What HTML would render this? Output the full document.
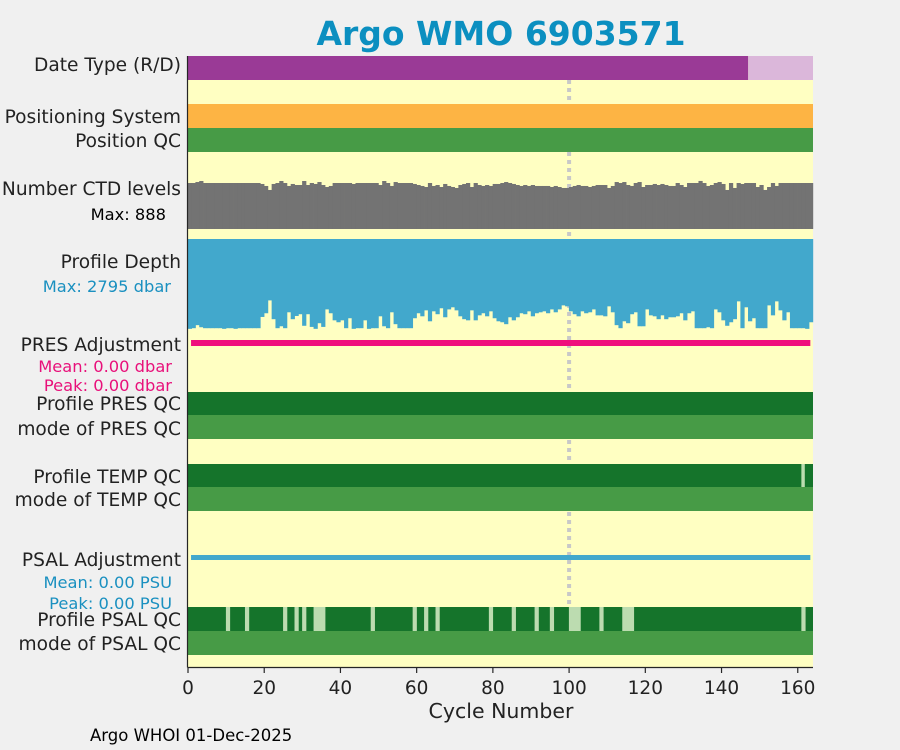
<!DOCTYPE html>
<html><head><meta charset="utf-8">
<style>
body{margin:0;background:#f0f0f0;}
svg{display:block;font-family:"DejaVu Sans","Liberation Sans",sans-serif;}
</style></head>
<body>
<svg id="chart" width="900" height="750" viewBox="0 0 900 750">
<rect x="0" y="0" width="900" height="750" fill="#f0f0f0"/>
<text x="501" y="45" text-anchor="middle" font-size="33" font-weight="bold" fill="#0b8fc0">Argo WMO 6903571</text>
<rect x="188" y="56" width="625" height="611" fill="#ffffc2"/>
<g id="marks"></g>
<g font-size="18.6" fill="#222" text-anchor="end">
<text x="181" y="71">Date Type (R/D)</text>
<text x="181" y="123">Positioning System</text>
<text x="181" y="147">Position QC</text>
<text x="181" y="195">Number CTD levels</text>
<text x="166" y="220" font-size="16.3" fill="#000">Max: 888</text>
<text x="181" y="268">Profile Depth</text>
<text x="171" y="292" font-size="16.3" fill="#1a90c0">Max: 2795 dbar</text>
<text x="181" y="351">PRES Adjustment</text>
<text x="172" y="372" font-size="16.3" fill="#e8107a">Mean: 0.00 dbar</text>
<text x="172" y="391" font-size="16.3" fill="#e8107a">Peak: 0.00 dbar</text>
<text x="181" y="410">Profile PRES QC</text>
<text x="181" y="435">mode of PRES QC</text>
<text x="181" y="483">Profile TEMP QC</text>
<text x="181" y="506">mode of TEMP QC</text>
<text x="181" y="566">PSAL Adjustment</text>
<text x="172" y="588" font-size="16.3" fill="#1a90c0">Mean: 0.00 PSU</text>
<text x="172" y="609" font-size="16.3" fill="#1a90c0">Peak: 0.00 PSU</text>
<text x="181" y="626">Profile PSAL QC</text>
<text x="181" y="650">mode of PSAL QC</text>
</g>
<g id="axis"></g>
<text x="501" y="718" text-anchor="middle" font-size="20.5" fill="#222">Cycle Number</text>
<text x="90" y="741" font-size="16.5" fill="#000">Argo WHOI 01-Dec-2025</text>
</svg>
<script>
const NS="http://www.w3.org/2000/svg";
const ctdLevels=[851,851,869,888,851,851,851,851,851,851,851,851,851,851,851,851,851,851,851,833,796,722,833,851,888,851,796,833,814,814,888,814,851,833,869,814,777,796,851,851,851,851,851,833,851,851,851,851,851,851,814,888,851,796,869,851,851,851,851,833,814,796,777,851,796,814,777,833,796,777,759,814,833,851,777,851,814,796,814,796,833,833,851,869,851,833,814,796,814,796,814,796,796,796,796,777,796,777,759,759,777,796,814,796,796,777,796,814,814,814,759,796,869,851,869,814,796,851,869,777,814,814,833,814,833,814,796,796,851,814,777,851,851,851,889,851,796,814,851,869,833,722,851,759,851,833,851,851,851,777,814,722,777,851,796,851,851,851,851,851,851,851,851,851];
const profileDepth=[2795,2775,2680,2745,2775,2775,2775,2775,2775,2795,2775,2775,2795,2775,2775,2775,2775,2775,2775,2425,2310,1910,2495,2775,2715,2775,2280,2495,2395,2340,2700,2340,2735,2795,2620,2735,2190,2310,2530,2590,2530,2775,2465,2795,2775,2775,2530,2795,2775,2775,2405,2715,2775,2280,2650,2775,2775,2775,2775,2465,2310,2405,2220,2560,2250,2340,2155,2435,2190,2125,2220,2405,2495,2530,2220,2530,2375,2310,2405,2250,2465,2560,2590,2650,2435,2530,2435,2310,2340,2250,2405,2310,2280,2250,2310,2190,2280,2190,2065,2095,2250,2340,2405,2250,2310,2280,2190,2375,2375,2405,2095,2280,2680,2775,2560,2620,2340,2280,2715,2715,2190,2375,2405,2495,2375,2495,2435,2435,2405,2310,2530,2310,2250,2775,2775,2775,2745,2775,2190,2280,2530,2700,2590,2495,1940,2775,2125,2560,2465,2775,2775,2775,2065,2375,1940,2220,2530,2280,2775,2775,2775,2775,2795,2590];
const psalBadCycles=[10,15,25,28,30,33,34,35,48,59,62,65,79,85,91,95,100,101,102,108,114,115,116,161];
const tempBadCycles=[161];
const realtimeFromCycle=147;
const xTicks=[0,20,40,60,80,100,120,140,160];
const nCycles=164;
const x=c=>188+c*(625/nCycles);
const g=document.getElementById('marks');
function rect(xx,yy,w,h,fill,name){const r=document.createElementNS(NS,'rect');r.setAttribute('x',xx);r.setAttribute('y',yy);r.setAttribute('width',w);r.setAttribute('height',h);r.setAttribute('fill',fill);


g.appendChild(r);return r;}
const dl=document.createElementNS(NS,'line');dl.setAttribute('x1',x(100));dl.setAttribute('x2',x(100));dl.setAttribute('y1',56);dl.setAttribute('y2',607);dl.setAttribute('stroke','#c8c8c8');dl.setAttribute('stroke-width',4);dl.setAttribute('stroke-dasharray','4 4');


g.appendChild(dl);
rect(x(0),56,x(realtimeFromCycle)-x(0),24,'#9a3a96','date-type-delayed');
rect(x(realtimeFromCycle),56,x(nCycles)-x(realtimeFromCycle),24,'#dbb7da','date-type-realtime');
rect(x(0),104,x(nCycles)-x(0),24,'#fdb444','positioning-system-bar');
rect(x(0),128,x(nCycles)-x(0),24,'#479b46','position-qc-bar');
const bw=625/nCycles;
const ctdMax=888;
for(let i=0;i<nCycles;i++){
  const top=229-ctdLevels[i]/ctdMax*48;
  rect(x(i)-0.2,top,bw+0.4,229-top,'#737373','ctd-level-bar');
  const bot=239+profileDepth[i]/2800*90;
  rect(x(i)-0.2,239,bw+0.4,bot-239,'#42a8cc','profile-depth-bar');
}
rect(x(0.8),340,x(163.3)-x(0.8),6,'#ef0f7d','pres-adjustment-line');
rect(x(0),392,x(nCycles)-x(0),23,'#15742b','profile-pres-qc-bar');
rect(x(0),415,x(nCycles)-x(0),24,'#479b46','mode-pres-qc-bar');
rect(x(0),464,x(nCycles)-x(0),23,'#15742b','profile-temp-qc-bar');
tempBadCycles.forEach(c=>rect(x(c)-0.2,464,bw*0.9,23,'#bcdcb0','temp-qc-flag'));
rect(x(0),487,x(nCycles)-x(0),24,'#479b46','mode-temp-qc-bar');
rect(x(0.8),555,x(163.3)-x(0.8),5,'#42a8cc','psal-adjustment-line');
rect(x(0),607,x(nCycles)-x(0),24,'#15742b','profile-psal-qc-bar');
psalBadCycles.forEach(c=>rect(x(c)-0.2,607,bw+0.4,24,'#bcdcb0','psal-qc-flag'));
rect(x(0),631,x(nCycles)-x(0),24,'#479b46','mode-psal-qc-bar');
const a=document.getElementById('axis');
function ln(x1,y1,x2,y2,name){const l=document.createElementNS(NS,'line');l.setAttribute('x1',x1);l.setAttribute('y1',y1);l.setAttribute('x2',x2);l.setAttribute('y2',y2);l.setAttribute('stroke','#262626');l.setAttribute('stroke-width',1.2);


a.appendChild(l);}
ln(187.5,56,187.5,667.5,'y-axis-line');
ln(187.5,667.5,813,667.5,'x-axis-line');
xTicks.forEach(t=>{ln(x(t),667,x(t),673,'x-tick');
const tx=document.createElementNS(NS,'text');tx.setAttribute('x',x(t));tx.setAttribute('y',694);tx.setAttribute('text-anchor','middle');tx.setAttribute('font-size','18.5');tx.setAttribute('fill','#222');tx.textContent=t;


a.appendChild(tx);});
</script>
</body></html>
